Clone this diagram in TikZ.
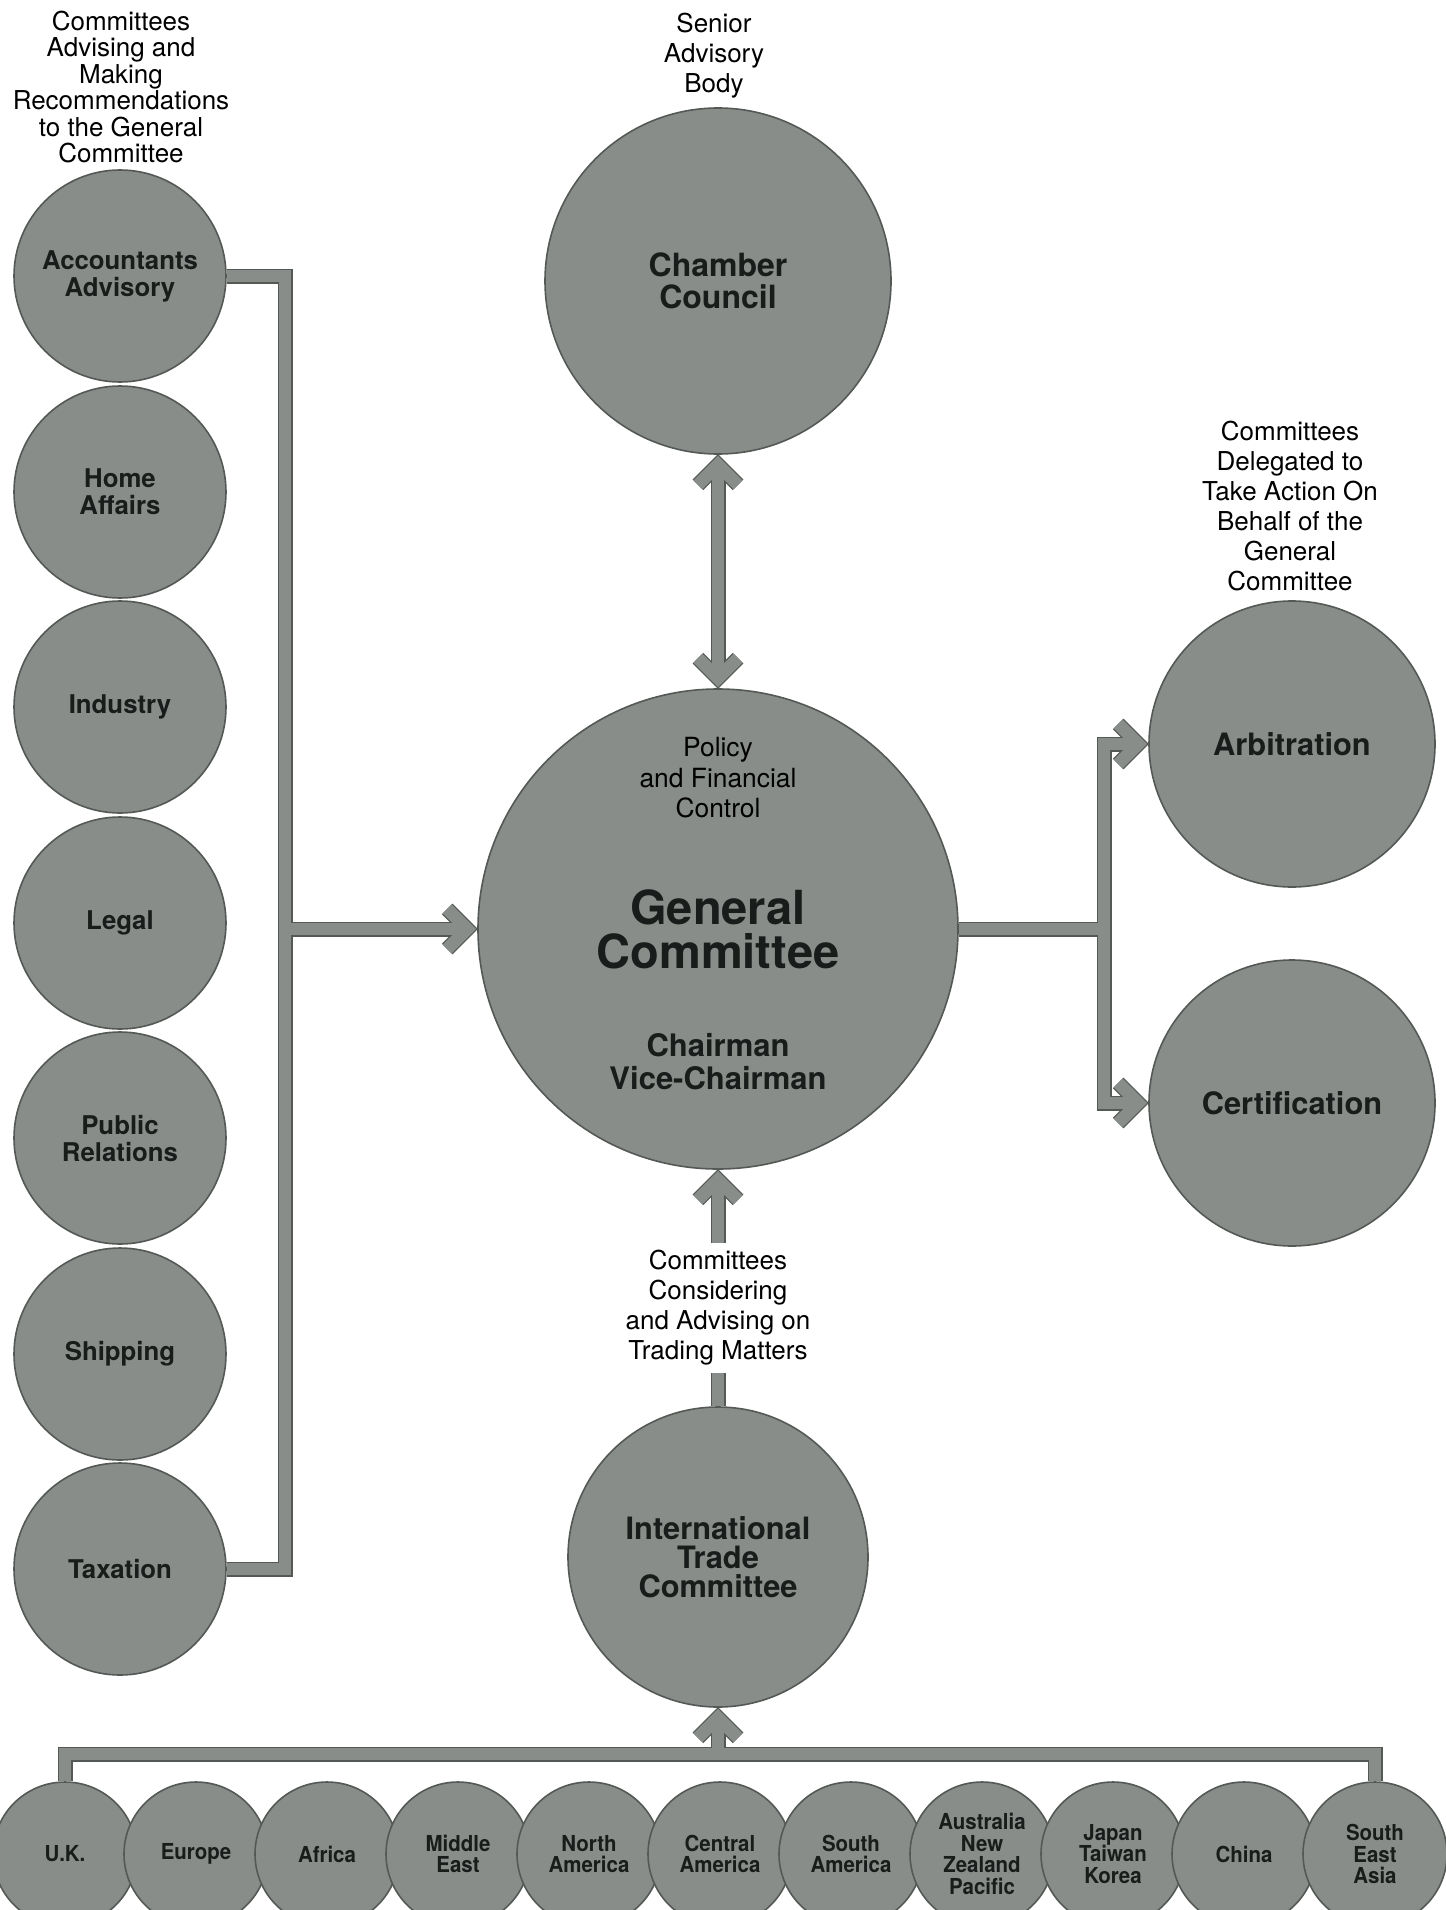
\documentclass[tikz,border=0pt]{standalone}
\usepackage{fontspec}
\setmainfont{TeX Gyre Heros}
\newfontfamily\narrowfont{TeX Gyre Heros}[FakeStretch=0.93]
\usetikzlibrary{arrows.meta,backgrounds}

\definecolor{bubblegray}{RGB}{136,141,137}
\definecolor{rimgray}{RGB}{84,89,86}
\definecolor{inkgray}{RGB}{24,28,26}

\tikzset{
  bubble/.style={circle,fill=bubblegray,draw=rimgray,line width=0.8pt,
    inner sep=0pt,align=center,text=inkgray},
  note/.style={align=center,font=\fontsize{13}{15}\selectfont},
  band/.style={line width=6.3pt,draw=bubblegray,
    preaction={draw=rimgray,line width=7.5pt}},
  barb/.style={-{Straight Barb[length=10pt,width=20pt,sep=5pt -0.707]}},
  barbs/.style={{Straight Barb[length=10pt,width=20pt,sep=5pt -0.707]}-{Straight Barb[length=10pt,width=20pt,sep=5pt -0.707]}}
}

\begin{document}
\begin{tikzpicture}[x=0.5pt,y=-0.5pt]
  \useasboundingbox (0,0) rectangle (1445,1910);

  % committees on the left
  \begin{scope}[every node/.style={bubble,minimum size=106pt,
      font=\bfseries\fontsize{12.9}{13.5}\selectfont}]
    \node (acc)   at (120,276)  {Accountants\\Advisory};
    \node (home)  at (120,492)  {Home\\Affairs};
    \node (ind)   at (120,707)  {Industry};
    \node (legal) at (120,923)  {Legal};
    \node (pr)    at (120,1138) {Public\\Relations};
    \node (ship)  at (120,1354) {Shipping};
    \node (tax)   at (120,1569) {Taxation};
  \end{scope}

  % centre column
  \node[bubble,minimum size=173pt,font=\bfseries\fontsize{16}{16}\selectfont]
    (cc) at (718,281) {Chamber\\Council};
  \node[bubble,minimum size=240pt,font=\bfseries\fontsize{23.5}{22}\selectfont]
    (gc) at (718,929) {General\\Committee};
  \node[note,font=\fontsize{13.2}{15.2}\selectfont] (policy)
    at ([yshift=75.5pt]gc.center) {Policy\\and Financial\\Control};
  \node[note,text=inkgray,font=\bfseries\fontsize{15.5}{16.5}\selectfont] (chair)
    at ([yshift=-66.5pt]gc.center) {Chairman\\Vice-Chairman};
  \node[bubble,minimum size=150pt,font=\bfseries\fontsize{15.4}{14.6}\selectfont]
    (itc) at (718,1557) {International\\Trade\\Committee};

  % delegated committees
  \begin{scope}[every node/.style={bubble,minimum size=143pt,
      font=\bfseries\fontsize{15.4}{16}\selectfont}]
    \node (arb)  at (1292,744)  {Arbitration};
    \node (cert) at (1292,1103) {Certification};
  \end{scope}

  % trading areas
  \begin{scope}[every node/.style={bubble,minimum size=72pt,
      font=\narrowfont\bfseries\fontsize{11}{10.8}\selectfont}]
    \node (uk)      at (65,1854)   {U.K.};
    \node (europe)  at (196,1854)  {Europe};
    \node (africa)  at (327,1854)  {Africa};
    \node (mideast) at (458,1854)  {Middle\\East};
    \node (northam) at (589,1854)  {North\\America};
    \node (centam)  at (720,1854)  {Central\\America};
    \node (southam) at (851,1854)  {South\\America};
    \node (aus)     at (982,1854)  {Australia\\New\\Zealand\\Pacific};
    \node (japan)   at (1113,1854) {Japan\\Taiwan\\Korea};
    \node (china)   at (1244,1854) {China};
    \node (sea)     at (1375,1854) {South\\East\\Asia};
  \end{scope}

  % headings
  \node[note,font=\fontsize{13}{13.2}\selectfont] (advising) at (121,87)
    {Committees\\Advising and\\Making\\Recommendations\\to the General\\Committee};
  \node[note] (senior) at (714,56) {Senior\\Advisory\\Body};
  \node[note] (delegated) at (1290,506)
    {Committees\\Delegated to\\Take Action On\\Behalf of the\\General\\Committee};
  \node[note] (trading) at (718,1308)
    {Committees\\Considering\\and Advising on\\Trading Matters};

  \coordinate (lbus) at (285,929);
  \coordinate (rbus) at (1104,929);
  \coordinate (bbus) at (718,1754);

  \begin{scope}[on background layer]
    \draw[band] (acc) -| (lbus) |- (tax);
    \draw[band,barb,shorten <=3.1pt] (lbus) -- (gc);
    \draw[band,barbs] (cc) -- (gc);
    \draw[band,barbs] (arb) -| (rbus) |- (cert);
    \draw[band,shorten >=3.1pt] (gc) -- (rbus);
    \draw[band] (itc) -- (trading);
    \draw[band,barb] (trading) -- (gc);
    \draw[band] (uk) |- (bbus) -| (sea);
    \draw[band,barb,shorten <=3.1pt] (bbus) -- (itc);
  \end{scope}

\end{tikzpicture}
\end{document}
